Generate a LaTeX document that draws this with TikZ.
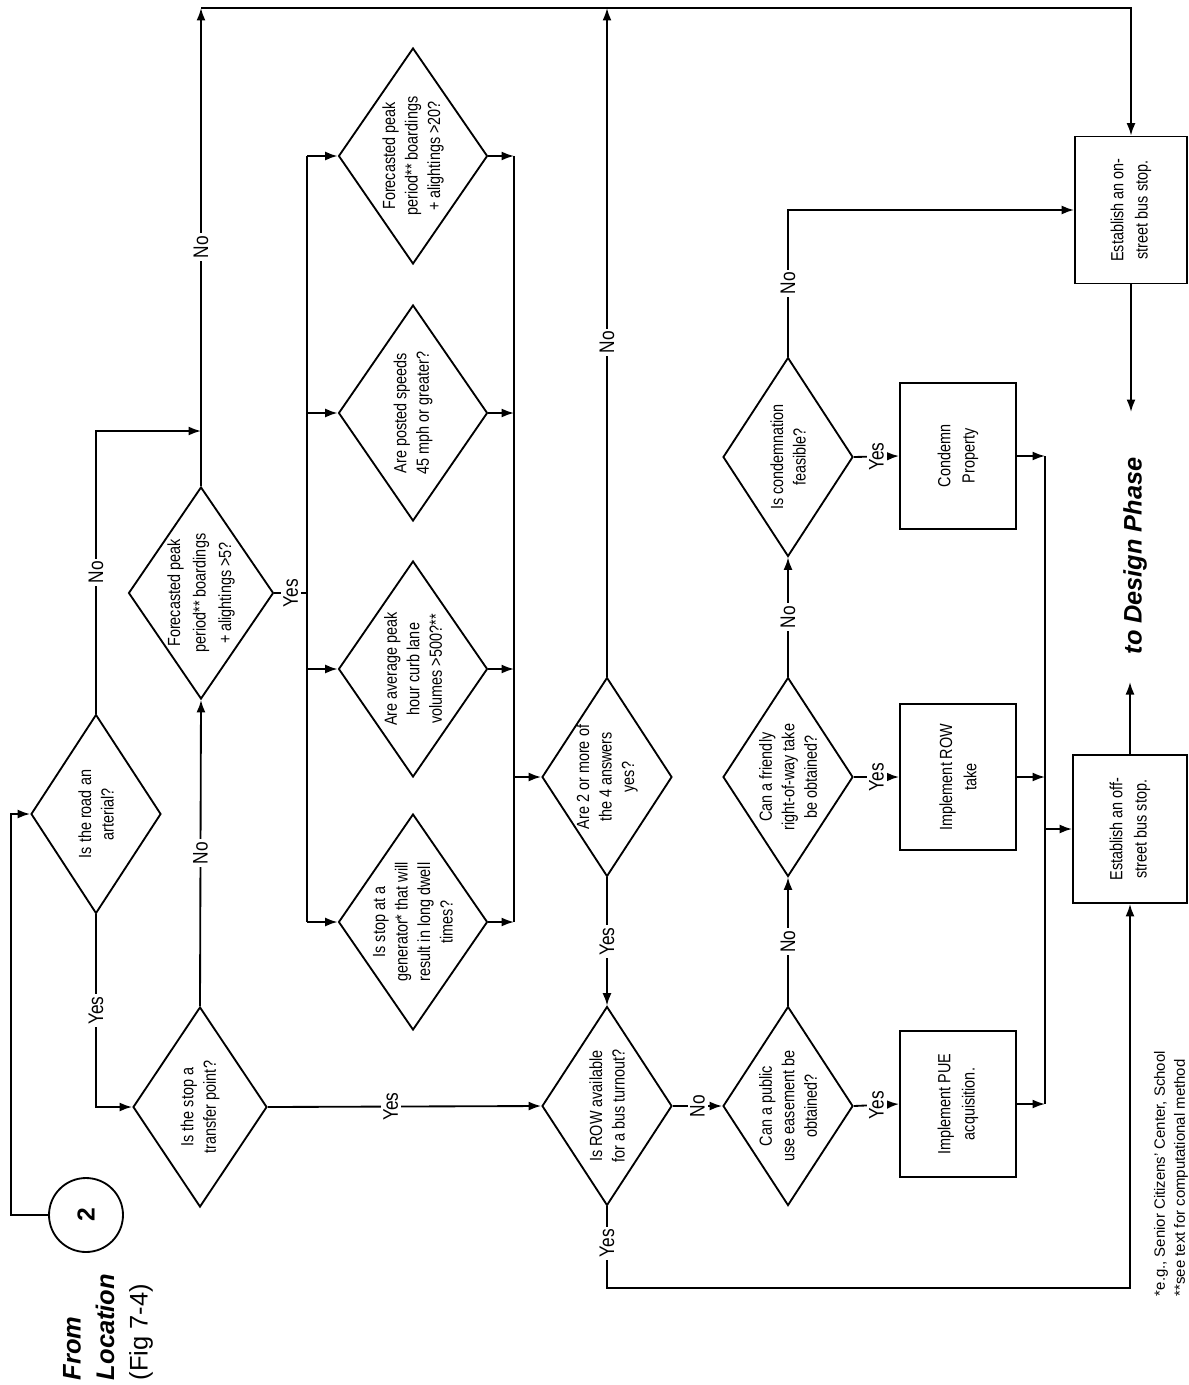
\documentclass[tikz,border=0pt]{standalone}
\usepackage{fontspec}
\setmainfont{Liberation Sans}
\newfontfamily\narrowfont{Liberation Sans}[FakeStretch=0.82]
\usepackage{graphicx}
\usepackage{tikz}
\usetikzlibrary{shapes,arrows,arrows.meta,positioning}
\tikzset{
decision/.style={
    diamond,
    draw,
    inner sep=0pt,
    minimum width=2.6cm,
    minimum height=3.98cm
},
criterion/.style={
    decision,
    minimum width=2.98cm,
    minimum height=4.32cm
},
block/.style={
    rectangle,
    draw,
    minimum width=2.32cm,
    minimum height=2.92cm
},
qtext/.style={
    rotate=90,
    align=center,
    inner sep=0pt,
    font=\narrowfont\fontsize{10}{12.8}\selectfont
},
btext/.style={
    qtext,
    font=\narrowfont\fontsize{10}{13.8}\selectfont
},
descr/.style={
    fill=white,
    inner sep=1.5pt,
    rotate=90,
    font=\narrowfont\fontsize{12}{14}\selectfont
},
connector/.style={
    ->,
    >={Latex[length=2.5mm,width=1.8mm]}
}
}

\begin{document}
\begin{tikzpicture}[x=0.02cm, y=-0.02cm, line width=1.05pt]
\useasboundingbox (0,0) rectangle (1188,1385);

% entry and first questions
\node[circle, draw, minimum size=1.48cm, inner sep=0pt, label={[qtext, font=\bfseries\fontsize{14}{16}\selectfont]center:2}] (from) at (86,1215) {};
\node[rotate=90, anchor=west, align=left, inner sep=0pt, font=\fontsize{14.5}{19}\selectfont] (fromtext) at (108,1381) {\textbf{\textit{From}}\\\textbf{\textit{Location}}\\(Fig 7-4)};
\node[decision, label={[qtext]center:{Is the road an\\arterial?}}] (arterial) at (96,814) {};
\node[decision, minimum width=2.9cm, minimum height=4.24cm, label={[qtext, font=\narrowfont\fontsize{10}{14.5}\selectfont]center:{Forecasted peak\\period** boardings\\+ alightings >5?}}] (peak5) at (201,593) {};
\node[decision, minimum width=2.68cm, minimum height=4cm, label={[qtext]center:{Is the stop a\\transfer point?}}] (transfer) at (200,1107) {};

% the 4 tests
\node[criterion, label={[qtext]center:{Is stop at a\\generator* that will\\result in long dwell\\times?}}] (generator) at (413,922) {};
\node[criterion, label={[qtext]center:{Are average peak\\hour curb lane\\volumes >500?**}}] (curb) at (413,669) {};
\node[criterion, label={[qtext]center:{Are posted speeds\\45 mph or greater?}}] (speed) at (413,413) {};
\node[criterion, label={[qtext]center:{Forecasted peak\\period** boardings\\+ alightings >20?}}] (peak20) at (413,156) {};

% right-of-way questions
\node[decision, label={[qtext]center:{Are 2 or more of\\the 4 answers\\yes?}}] (twoyes) at (607,777) {};
\node[decision, label={[qtext]center:{Is ROW available\\for a bus turnout?}}] (rowfree) at (607,1106) {};
\node[decision, label={[qtext]center:{Can a public\\use easement be\\obtained?}}] (easement) at (788,1106) {};
\node[decision, label={[qtext]center:{Can a friendly\\right-of-way take\\be obtained?}}] (friendly) at (788,777) {};
\node[decision, label={[qtext]center:{Is condemnation\\feasible?}}] (condemn) at (788,457) {};

% actions
\node[block, label={[btext]center:{Implement PUE\\acquisition.}}] (pue) at (958,1104) {};
\node[block, label={[btext]center:{Implement ROW\\take}}] (rowtake) at (958,777) {};
\node[block, label={[btext]center:{Condemn\\Property}}] (property) at (958,456) {};
\node[block, minimum width=2.28cm, minimum height=2.96cm, label={[btext]center:{Establish an off-\\street bus stop.}}] (offstreet) at (1130,829) {};
\node[block, minimum width=2.24cm, minimum height=2.94cm, label={[btext]center:{Establish an on-\\street bus stop.}}] (onstreet) at (1131,210) {};
\node[rotate=90, inner sep=0pt, font=\bfseries\itshape\fontsize{14.4}{17}\selectfont] (design) at (1135,556) {to Design Phase};
\node[rotate=90, anchor=west, align=left, inner sep=0pt, font=\fontsize{8.5}{11.5}\selectfont] (notes) at (1171,1297) {*e.g., Senior Citizens' Center, School\\**see text for computational method};

\coordinate (top) at (0,8);
\coordinate (joinA) at (0,431);
\coordinate (busin) at (307,0);
\coordinate (busout) at (514,0);
\coordinate (merge) at (1045,0);
\coordinate (todesign1) at (1131,412);
\coordinate (todesign2) at (1130,682);

\draw[connector] (from.west) -- ++(-37,0) |- (arterial.west);
\draw[connector] (arterial.south) |- node[descr, pos=0.25] {Yes} (transfer.west);
\draw[connector] (arterial.north) |- node[descr, pos=0.25] {No} (peak5.north |- joinA);
\draw[connector] (peak5.north) -- node[descr] {No} (peak5.north |- top);
\draw[connector] (peak5.north |- top) -| (onstreet.north);
\draw[connector] (transfer.north) -- node[descr] {No} (peak5.south);
\draw[connector] (transfer.east) -- node[descr, pos=0.45] {Yes} (rowfree.west);

\draw (peak5.east) -- node[descr] {Yes} (peak5.east -| busin);
\draw (peak20.west -| busin) -- (generator.west -| busin);
\draw[connector] (peak20.west -| busin) -- (peak20.west);
\draw[connector] (speed.west -| busin) -- (speed.west);
\draw[connector] (curb.west -| busin) -- (curb.west);
\draw[connector] (generator.west -| busin) -- (generator.west);
\draw[connector] (peak20.east) -- (peak20.east -| busout);
\draw[connector] (speed.east) -- (speed.east -| busout);
\draw[connector] (curb.east) -- (curb.east -| busout);
\draw[connector] (generator.east) -- (generator.east -| busout);
\draw (peak20.east -| busout) -- (generator.east -| busout);
\draw[connector] (twoyes.west -| busout) -- (twoyes.west);

\draw[connector] (twoyes.north) -- node[descr] {No} (twoyes.north |- top);
\draw[connector] (twoyes.south) -- node[descr] {Yes} (rowfree.north);
\draw[connector] (rowfree.east) -- node[descr] {No} (easement.west);
\draw[connector] (rowfree.south) -- node[descr, pos=0.45] {Yes} ++(0,82) -| (offstreet.south);
\draw[connector] (easement.north) -- node[descr] {No} (friendly.south);
\draw[connector] (friendly.north) -- node[descr] {No} (condemn.south);
\draw[connector] (condemn.north) |- node[descr, pos=0.25] {No} (onstreet.west);
\draw[connector] (easement.east) -- node[descr] {Yes} (pue.west);
\draw[connector] (friendly.east) -- node[descr] {Yes} (rowtake.west);
\draw[connector] (condemn.east) -- node[descr] {Yes} (property.west);

\draw[connector] (pue.east) -- (pue.east -| merge);
\draw[connector] (rowtake.east) -- (rowtake.east -| merge);
\draw[connector] (property.east) -- (property.east -| merge);
\draw (property.east -| merge) -- (pue.east -| merge);
\draw[connector] (offstreet.west -| merge) -- (offstreet.west);
\draw[connector] (onstreet.south) -- (todesign1);
\draw[connector] (offstreet.north) -- (todesign2);

\end{tikzpicture}
\end{document}
